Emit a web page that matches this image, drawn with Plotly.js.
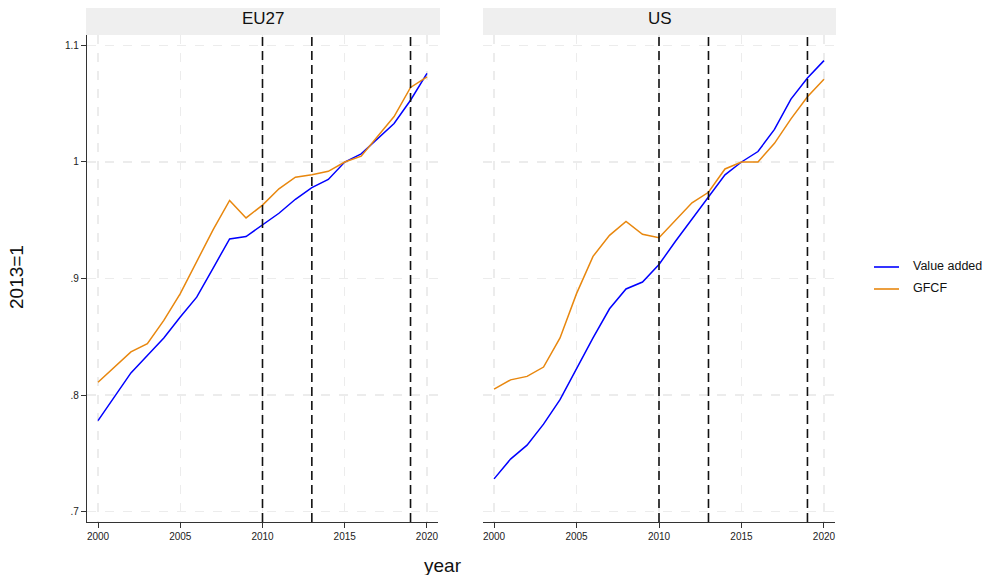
<!DOCTYPE html>
<html>
<head>
<meta charset="utf-8">
<script src="https://cdn.plot.ly/plotly-3.0.1.min.js"></script>
<style>html,body{margin:0;padding:0;background:#fff;}#chart{width:985px;height:575px;}</style>
</head>
<body>
<div id="chart"></div>
<script>
const years = [2000,2001,2002,2003,2004,2005,2006,2007,2008,2009,2010,2011,2012,2013,2014,2015,2016,2017,2018,2019,2020];
const euValueAdded = [0.778,0.798,0.819,0.834,0.849,0.867,0.884,0.909,0.934,0.936,0.946,0.956,0.968,0.978,0.985,1.000,1.007,1.020,1.033,1.053,1.076];
const euGFCF = [0.811,0.824,0.837,0.844,0.864,0.887,0.914,0.942,0.967,0.952,0.963,0.977,0.987,0.989,0.992,1.000,1.005,1.022,1.039,1.064,1.073];
const usValueAdded = [0.728,0.745,0.757,0.775,0.796,0.823,0.849,0.874,0.891,0.897,0.912,0.932,0.951,0.971,0.989,1.000,1.009,1.028,1.054,1.072,1.087];
const usGFCF = [0.805,0.813,0.816,0.824,0.849,0.887,0.919,0.937,0.949,0.938,0.935,0.950,0.965,0.974,0.994,1.000,1.000,1.016,1.037,1.056,1.071];
const panels = ["EU27","US"];
const seriesNames = ["Value added","GFCF"];
const markerYears = [2010,2013,2019];
const yTickVals = [0.7,0.8,0.9,1.0,1.1];
const yTickText = [".7",".8",".9","1","1.1"];
const xTickVals = [2000,2005,2010,2015,2020];

const blue = "#0000ff", orange = "#e8870e";
const seriesColors = [blue, orange];
const font = "Arial, 'Liberation Sans', sans-serif";
const W = 985, H = 575;
const px = v => v / W;
const py = v => 1 - v / H;

const traces = [
  {x: years, y: euValueAdded, name: seriesNames[0], xaxis: 'x', yaxis: 'y', mode: 'lines', line: {color: blue, width: 1.5}},
  {x: years, y: euGFCF, name: seriesNames[1], xaxis: 'x', yaxis: 'y', mode: 'lines', line: {color: orange, width: 1.5}},
  {x: years, y: usValueAdded, name: seriesNames[0], xaxis: 'x2', yaxis: 'y2', mode: 'lines', line: {color: blue, width: 1.5}},
  {x: years, y: usGFCF, name: seriesNames[1], xaxis: 'x2', yaxis: 'y2', mode: 'lines', line: {color: orange, width: 1.5}}
];

const yDom = [py(522), py(35)];
const xaxisBase = {
  range: [1999.33, 2020.67], tickvals: xTickVals, ticks: 'outside', ticklen: 5, tickcolor: '#333',
  showline: true, linecolor: '#333', linewidth: 1.2, zeroline: false,
  showgrid: true, gridcolor: '#ececec', gridwidth: 1.5, griddash: 'dash',
  tickfont: {family: font, size: 10, color: '#222'}, fixedrange: true
};
const yaxisBase = {
  range: [0.691, 1.109], tickvals: yTickVals, ticktext: yTickText, zeroline: false,
  showgrid: true, gridcolor: '#ececec', gridwidth: 1.5, griddash: 'dash',
  tickfont: {family: font, size: 10, color: '#222'}, domain: yDom, fixedrange: true
};

const shapes = [];
const annotations = [];
const stripX = [[px(86), px(440)], [px(483), px(836)]];
panels.forEach((p, i) => {
  shapes.push({type: 'rect', xref: 'paper', yref: 'paper', x0: stripX[i][0], x1: stripX[i][1], y0: py(35), y1: py(8), fillcolor: '#efefef', line: {width: 0}, layer: 'below'});
  annotations.push({xref: 'paper', yref: 'paper', x: (stripX[i][0] + stripX[i][1]) / 2, y: py(19), text: p, showarrow: false, font: {family: font, size: 17, color: '#111'}, xanchor: 'center', yanchor: 'middle'});
  markerYears.forEach(yr => {
    shapes.push({type: 'line', xref: i === 0 ? 'x' : 'x2', yref: i === 0 ? 'y domain' : 'y2 domain', x0: yr, x1: yr, y0: 0, y1: 1, line: {color: '#111', width: 1.6, dash: '9px,5px'}});
  });
});
annotations.push({xref: 'paper', yref: 'paper', x: px(16), y: py(277), text: '2013=1', textangle: -90, showarrow: false, font: {family: font, size: 19, color: '#111'}, xanchor: 'center', yanchor: 'middle'});
annotations.push({xref: 'paper', yref: 'paper', x: px(443), y: py(565), text: 'year', showarrow: false, font: {family: font, size: 19, color: '#111'}, xanchor: 'center', yanchor: 'middle'});

// legend (drawn as line samples and labels)
const legendY = [267, 289];
seriesNames.forEach((n, k) => {
  shapes.push({type: 'line', xref: 'paper', yref: 'paper', x0: px(874), x1: px(899), y0: py(legendY[k]), y1: py(legendY[k]), line: {color: seriesColors[k], width: 1.6}});
  annotations.push({xref: 'paper', yref: 'paper', x: px(911), y: py(legendY[k] - 1), text: n, showarrow: false, font: {family: font, size: 12.5, color: '#111'}, xanchor: 'left', yanchor: 'middle'});
});

const layout = {
  width: W, height: H, margin: {l: 0, r: 0, t: 0, b: 0},
  paper_bgcolor: '#fff', plot_bgcolor: '#fff',
  xaxis: Object.assign({}, xaxisBase, {domain: [px(87), px(438)], anchor: 'y'}),
  xaxis2: Object.assign({}, xaxisBase, {domain: [px(483), px(835)], anchor: 'y2'}),
  yaxis: Object.assign({}, yaxisBase, {anchor: 'x', showline: true, linecolor: '#333', linewidth: 1.2, ticks: 'outside', ticklen: 5, tickcolor: '#333'}),
  yaxis2: Object.assign({}, yaxisBase, {anchor: 'x2', showline: false, ticks: '', showticklabels: false}),
  showlegend: false,
  shapes: shapes, annotations: annotations
};

Plotly.newPlot('chart', traces, layout, {displayModeBar: false, staticPlot: true});
</script>
</body>
</html>
